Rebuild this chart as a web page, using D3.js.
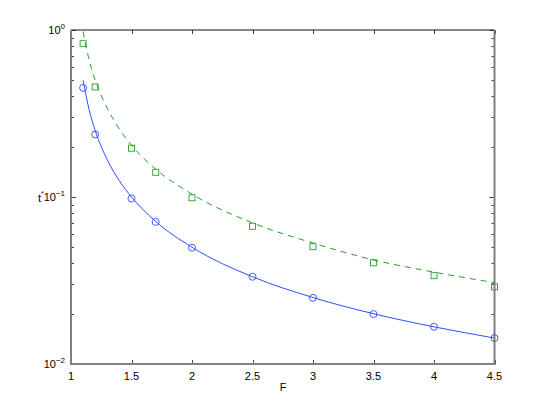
<!DOCTYPE html>
<html><head><meta charset="utf-8">
<script src="https://cdn.jsdelivr.net/npm/d3@7"></script>
<style>body{margin:0;background:#fff}svg{display:block}text{font-family:"Liberation Sans",Arial,sans-serif;fill:#000}</style>
</head><body><svg id="c" width="546" height="411"></svg>
<script>
const F = [1.1, 1.2, 1.5, 1.7, 2, 2.5, 3, 3.5, 4, 4.5];
const circleVals = [0.45, 0.237, 0.098, 0.0709, 0.0497, 0.0333, 0.0249, 0.0199, 0.0167, 0.0143];
const squareVals = [0.828, 0.456, 0.196, 0.1406, 0.099, 0.0668, 0.0504, 0.0404, 0.0338, 0.029];
const curveF = [1.1, 1.15, 1.2, 1.3, 1.4, 1.5, 1.7, 2, 2.5, 3, 3.5, 4, 4.5];
const solidVals = [0.50, 0.333, 0.25, 0.167, 0.125, 0.10, 0.0714, 0.05, 0.0333, 0.025, 0.02, 0.0167, 0.0143];
const dashedVals = [0.98, 0.66, 0.50, 0.34, 0.255, 0.204, 0.147, 0.104, 0.070, 0.053, 0.042, 0.0355, 0.0307];
const xTicks = [1, 1.5, 2, 2.5, 3, 3.5, 4, 4.5];
const yExps = [0, -1, -2];

const svg = d3.select("#c");
const L = 71, R = 494.5, T = 30, B = 364;
const x = d3.scaleLinear().domain([1, 4.5]).range([L, R]);
const y = d3.scaleLog().domain([0.01, 1]).range([B, T]);

const blue = "#2d4fff", green = "#23a02d";

// ticks
const tk = svg.append("g").attr("stroke", "#444").attr("stroke-width", 1);
xTicks.forEach(v => {
  const px = Math.round(x(v)) + 0.5;
  tk.append("line").attr("x1", px).attr("x2", px).attr("y1", B).attr("y2", B - 4);
  tk.append("line").attr("x1", px).attr("x2", px).attr("y1", T).attr("y2", T + 4);
});
const yMinor = [];
[0.01, 0.1].forEach(d => { for (let k = 1; k <= 10; k++) yMinor.push(d * k); });
yMinor.forEach(v => {
  const py = Math.round(y(v)) + 0.5;
  const len = (Math.abs(Math.log10(v) - Math.round(Math.log10(v))) < 1e-9) ? 5 : 3;
  tk.append("line").attr("x1", L).attr("x2", L + len).attr("y1", py).attr("y2", py);
  tk.append("line").attr("x1", R).attr("x2", R - len).attr("y1", py).attr("y2", py);
});

// frame
svg.append("line").attr("x1", L).attr("x2", R).attr("y1", T).attr("y2", T).attr("stroke", "#111").attr("stroke-width", 1.2);
svg.append("line").attr("x1", L).attr("x2", R + 1).attr("y1", B).attr("y2", B).attr("stroke", "#808080").attr("stroke-width", 2);
svg.append("line").attr("x1", L).attr("x2", L).attr("y1", T).attr("y2", B + 1).attr("stroke", "#808080").attr("stroke-width", 2);
svg.append("line").attr("x1", R).attr("x2", R).attr("y1", T).attr("y2", B + 1).attr("stroke", "#808080").attr("stroke-width", 2);

// tick labels
xTicks.forEach(v => {
  svg.append("text").attr("x", x(v)).attr("y", 380).attr("text-anchor", "middle").attr("font-size", 11).text(v);
});
yExps.forEach(e => {
  const t = svg.append("text").attr("x", 65).attr("y", y(Math.pow(10, e)) + 4).attr("text-anchor", "end").attr("font-size", 11);
  t.append("tspan").text("10");
  t.append("tspan").attr("dy", -5).attr("font-size", 8).text(e === 0 ? "0" : "\u2212" + Math.abs(e));
});
svg.append("text").attr("x", 283).attr("y", 391).attr("text-anchor", "middle").attr("font-size", 11).text("F");
const yl = svg.append("text").attr("x", 38).attr("y", 202).attr("font-size", 11);
yl.append("tspan").text("t");
yl.append("tspan").attr("dy", -6).attr("font-size", 7).text("*");

// lines
const line = d3.line().x(d => x(d[0])).y(d => y(d[1])).curve(d3.curveMonotoneX);
svg.append("path").datum(curveF.map((f, i) => [f, solidVals[i]])).attr("d", line)
  .attr("fill", "none").attr("stroke", blue).attr("stroke-width", 1);
svg.append("path").datum(curveF.map((f, i) => [f, dashedVals[i]])).attr("d", line)
  .attr("fill", "none").attr("stroke", green).attr("stroke-width", 1).attr("stroke-dasharray", "6,5");

// markers
svg.append("g").selectAll("circle").data(F.map((f, i) => [f, circleVals[i]])).join("circle")
  .attr("cx", d => x(d[0])).attr("cy", d => y(d[1])).attr("r", 3.5)
  .attr("fill", "none").attr("stroke", blue).attr("stroke-width", 0.9);
svg.append("g").selectAll("rect").data(F.map((f, i) => [f, squareVals[i]])).join("rect")
  .attr("x", d => x(d[0]) - 3).attr("y", d => y(d[1]) - 3).attr("width", 6).attr("height", 6)
  .attr("fill", "none").attr("stroke", green).attr("stroke-width", 0.9);
</script></body></html>
